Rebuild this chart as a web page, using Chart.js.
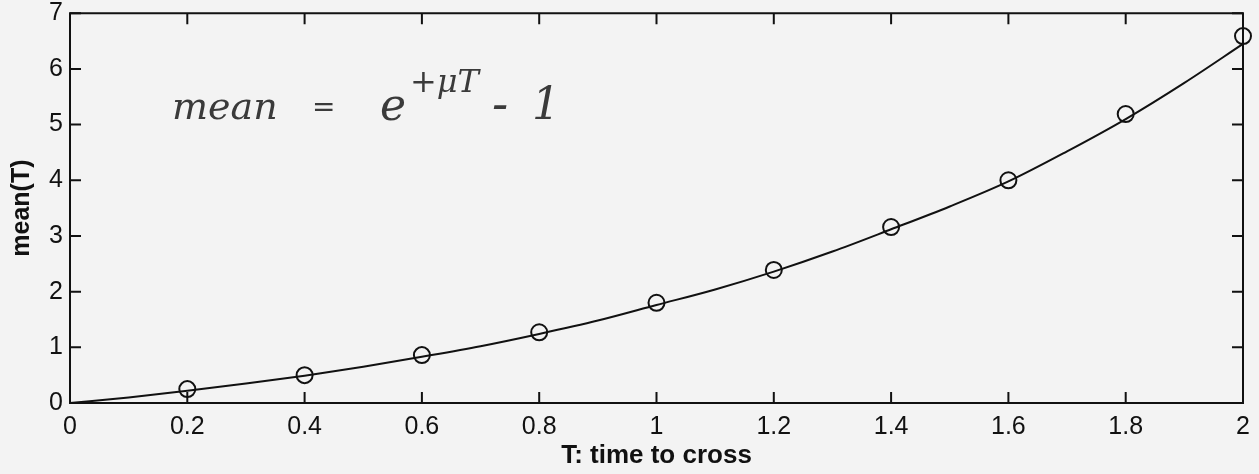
<!DOCTYPE html>
<html>
<head>
<meta charset="utf-8">
<script src="https://cdn.jsdelivr.net/npm/chart.js@4.4.1/dist/chart.umd.min.js"></script>
<style>
  html, body { margin: 0; padding: 0; background: #f3f3f3; }
  #wrap { width: 1259px; height: 474px; }
</style>
</head>
<body>
<div id="wrap"><canvas id="c" width="1259" height="474"></canvas></div>
<script>
// ---- data ----
const sampleT = [0.2, 0.4, 0.6, 0.8, 1.0, 1.2, 1.4, 1.6, 1.8, 2.0];
const sampleMean = [0.25, 0.50, 0.86, 1.27, 1.80, 2.39, 3.16, 4.00, 5.19, 6.59];

const curveT = [0, 0.1, 0.2, 0.3, 0.4, 0.5, 0.6, 0.7, 0.8, 0.9, 1.0, 1.1, 1.2, 1.3, 1.4, 1.5, 1.6, 1.7, 1.8, 1.9, 2.0];
const curveMean = [0, 0.10, 0.22, 0.35, 0.49, 0.65, 0.83, 1.02, 1.24, 1.48, 1.76, 2.04, 2.36, 2.72, 3.12, 3.53, 3.98, 4.52, 5.10, 5.75, 6.45];

const xTickValues = [0, 0.2, 0.4, 0.6, 0.8, 1, 1.2, 1.4, 1.6, 1.8, 2];
const xTickLabels = ['0', '0.2', '0.4', '0.6', '0.8', '1', '1.2', '1.4', '1.6', '1.8', '2'];
const yTickValues = [0, 1, 2, 3, 4, 5, 6, 7];
const yTickLabels = ['0', '1', '2', '3', '4', '5', '6', '7'];

const xTitle = 'T: time to cross';
const yTitle = 'mean(T)';

const INK = '#111111';
const FONT = "'Liberation Sans', Arial, Helvetica, sans-serif";

const bgPlugin = {
  id: 'bg',
  beforeDraw(chart) {
    const ctx = chart.ctx;
    ctx.save();
    ctx.fillStyle = '#f3f3f3';
    ctx.fillRect(0, 0, chart.width, chart.height);
    ctx.restore();
  }
};

// box around plot + inward tick marks on all four sides
const boxPlugin = {
  id: 'box',
  afterDatasetsDraw(chart) {
    const {ctx, chartArea: a, scales} = chart;
    const tl = 11;
    ctx.save();
    ctx.strokeStyle = INK;
    ctx.lineWidth = 2;
    ctx.strokeRect(a.left, a.top, a.right - a.left, a.bottom - a.top);
    ctx.beginPath();
    xTickValues.forEach(v => {
      const px = scales.x.getPixelForValue(v);
      ctx.moveTo(px, a.bottom); ctx.lineTo(px, a.bottom - tl);
      ctx.moveTo(px, a.top); ctx.lineTo(px, a.top + tl);
    });
    yTickValues.forEach(v => {
      const py = scales.y.getPixelForValue(v);
      ctx.moveTo(a.left, py); ctx.lineTo(a.left + tl, py);
      ctx.moveTo(a.right, py); ctx.lineTo(a.right - tl, py);
    });
    ctx.stroke();
    ctx.restore();
  }
};

// handwritten annotation: mean = e^{+μT} - 1
const notePlugin = {
  id: 'note',
  afterDraw(chart) {
    const ctx = chart.ctx;
    ctx.save();
    ctx.fillStyle = '#3a3a3a';
    ctx.textBaseline = 'alphabetic';
    ctx.font = "italic 38px 'DejaVu Serif', serif";
    ctx.fillText('mean', 172, 119);
    ctx.font = "italic 28px 'DejaVu Serif', serif";
    ctx.fillText('=', 312, 116);
    ctx.font = "italic 44px 'DejaVu Serif', serif";
    ctx.fillText('e', 380, 120);
    ctx.font = "italic 32px 'DejaVu Serif', serif";
    ctx.fillText('+\u03BCT', 410, 92);
    ctx.font = "italic 48px 'DejaVu Serif', serif";
    ctx.fillText('-', 492, 120);
    ctx.font = "italic 44px 'DejaVu Serif', serif";
    ctx.fillText('1', 532, 119);
    ctx.restore();
  }
};

new Chart(document.getElementById('c'), {
  type: 'line',
  data: {
    datasets: [
      {
        label: 'curve',
        data: curveT.map((t, i) => ({x: t, y: curveMean[i]})),
        borderColor: INK,
        borderWidth: 2,
        pointRadius: 0,
        cubicInterpolationMode: 'monotone',
        fill: false,
        clip: false
      },
      {
        label: 'samples',
        data: sampleT.map((t, i) => ({x: t, y: sampleMean[i]})),
        showLine: false,
        borderColor: INK,
        backgroundColor: 'rgba(0,0,0,0)',
        pointRadius: 8,
        pointBorderWidth: 2,
        pointStyle: 'circle',
        clip: false
      }
    ]
  },
  plugins: [bgPlugin, boxPlugin, notePlugin],
  options: {
    responsive: false,
    animation: false,
    events: [],
    layout: { padding: { top: 12, right: 16, left: 0, bottom: 0 } },
    plugins: { legend: { display: false }, tooltip: { enabled: false } },
    scales: {
      x: {
        type: 'linear',
        min: 0, max: 2,
        afterBuildTicks(s) { s.ticks = xTickValues.map(v => ({value: v})); },
        afterFit(s) { s.height = 71; },
        grid: { display: false, drawTicks: false },
        border: { display: false },
        ticks: {
          padding: 9,
          color: INK,
          maxRotation: 0,
          autoSkip: false,
          font: { family: FONT, size: 25 },
          callback: (v, i) => xTickLabels[i]
        },
        title: {
          display: true,
          text: xTitle,
          color: INK,
          padding: { top: 0, bottom: 3 },
          font: { family: FONT, size: 26, weight: 'bold' }
        }
      },
      y: {
        type: 'linear',
        min: 0, max: 7,
        afterBuildTicks(s) { s.ticks = yTickValues.map(v => ({value: v})); },
        afterFit(s) { s.width = 70; },
        grid: { display: false, drawTicks: false },
        border: { display: false },
        ticks: {
          padding: 7,
          color: INK,
          autoSkip: false,
          font: { family: FONT, size: 25, lineHeight: 0.5 },
          callback: (v, i) => yTickLabels[i]
        },
        title: {
          display: true,
          text: yTitle,
          color: INK,
          padding: { top: 7, bottom: 0 },
          font: { family: FONT, size: 25, weight: 'bold' }
        }
      }
    }
  }
});
</script>
</body>
</html>
